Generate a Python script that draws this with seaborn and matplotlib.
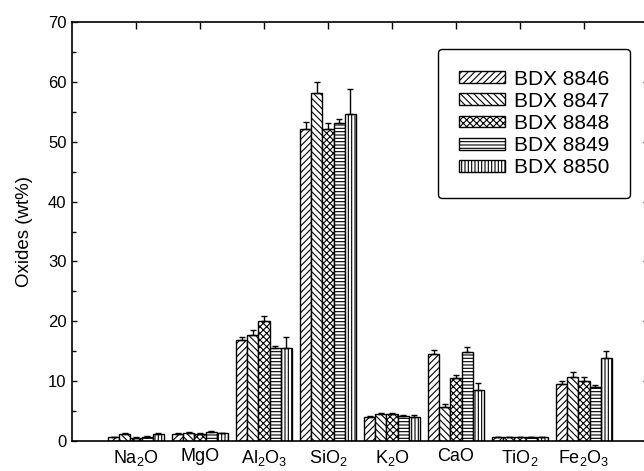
import matplotlib
matplotlib.use("Agg")
import matplotlib.pyplot as plt
import seaborn as sns
import pandas as pd
from matplotlib.ticker import MultipleLocator

oxides = ["Na$_2$O", "MgO", "Al$_2$O$_3$", "SiO$_2$", "K$_2$O", "CaO", "TiO$_2$", "Fe$_2$O$_3$"]
samples = ["BDX 8846", "BDX 8847", "BDX 8848", "BDX 8849", "BDX 8850"]

bdx8846 = [0.6, 1.2, 16.9, 52.2, 4.0, 14.5, 0.6, 9.5]
bdx8847 = [1.1, 1.4, 17.7, 58.2, 4.5, 5.6, 0.6, 10.7]
bdx8848 = [0.5, 1.2, 20.1, 52.2, 4.5, 10.5, 0.6, 10.0]
bdx8849 = [0.7, 1.5, 15.6, 53.2, 4.2, 14.9, 0.6, 9.1]
bdx8850 = [1.2, 1.3, 15.6, 54.7, 4.0, 8.6, 0.6, 13.8]

err8846 = [0.1, 0.1, 0.5, 1.1, 0.2, 0.7, 0.1, 0.6]
err8847 = [0.2, 0.1, 0.8, 1.7, 0.2, 0.6, 0.1, 0.8]
err8848 = [0.1, 0.1, 0.7, 1.0, 0.2, 0.6, 0.1, 0.7]
err8849 = [0.1, 0.1, 0.3, 0.6, 0.2, 0.8, 0.1, 0.2]
err8850 = [0.2, 0.1, 1.7, 4.1, 0.3, 1.1, 0.1, 1.3]

values = [bdx8846, bdx8847, bdx8848, bdx8849, bdx8850]
errors = [err8846, err8847, err8848, err8849, err8850]
hatches = ["/////", "\\\\\\\\\\", "xxxxx", "-----", "|||||"]

rows = []
for s, vals in zip(samples, values):
    for o, v in zip(oxides, vals):
        rows.append({"oxide": o, "sample": s, "value": v})
df = pd.DataFrame(rows)

sns.set_style("ticks")
plt.rcParams["font.family"] = ["Liberation Sans", "DejaVu Sans"]
plt.rcParams["mathtext.default"] = "regular"
plt.rcParams["hatch.linewidth"] = 0.8
for k in ["text.color", "axes.labelcolor", "xtick.color", "ytick.color", "axes.edgecolor"]:
    plt.rcParams[k] = "black"

fig = plt.figure(figsize=(6.44, 4.71), dpi=100)
ax = fig.add_axes([72 / 644, 1 - 441 / 471, 576 / 644, 419 / 471])

sns.barplot(data=df, x="oxide", y="value", hue="sample", order=oxides,
            hue_order=samples, palette=["white"] * 5, edgecolor="black",
            linewidth=1.0, width=0.86, legend=False, ax=ax, errorbar=None)

for cont, h, errs in zip(ax.containers, hatches, errors):
    xs, ys = [], []
    for bar in cont:
        bar.set_hatch(h)
        xs.append(bar.get_x() + bar.get_width() / 2)
        ys.append(bar.get_height())
    ax.errorbar(xs, ys, yerr=[[0] * len(errs), errs], fmt="none",
                ecolor="black", elinewidth=1.0, capsize=2.5, capthick=1.0)

ax.set_xlim(-1, 8)
ax.set_ylim(0, 70)
ax.yaxis.set_major_locator(MultipleLocator(10))
ax.yaxis.set_minor_locator(MultipleLocator(5))
ax.tick_params(axis="y", which="both", direction="in", left=True, right=True,
               labelsize=12, pad=4)
ax.tick_params(axis="y", which="major", length=3.5, width=1.0)
ax.tick_params(axis="y", which="minor", length=3, width=1.0)
ax.tick_params(axis="x", direction="in", bottom=False, top=True, length=5,
               width=1.0, labelsize=13, pad=5)
for sp in ax.spines.values():
    sp.set_linewidth(1.2)
    sp.set_color("black")

ax.set_xlabel("")
ax.set_ylabel("Oxides (wt%)", fontsize=13.5, labelpad=11)

leg = ax.legend(handles=ax.containers, labels=samples, loc="upper right",
                bbox_to_anchor=(0.969, 0.936), borderaxespad=0, fontsize=15,
                handlelength=2.2, handleheight=0.5, handletextpad=0.45,
                labelspacing=0.15, borderpad=1.0, frameon=True, fancybox=True,
                framealpha=1, edgecolor="black")
leg.get_frame().set_linewidth(1.0)

fig.savefig("out.png", dpi=100)
